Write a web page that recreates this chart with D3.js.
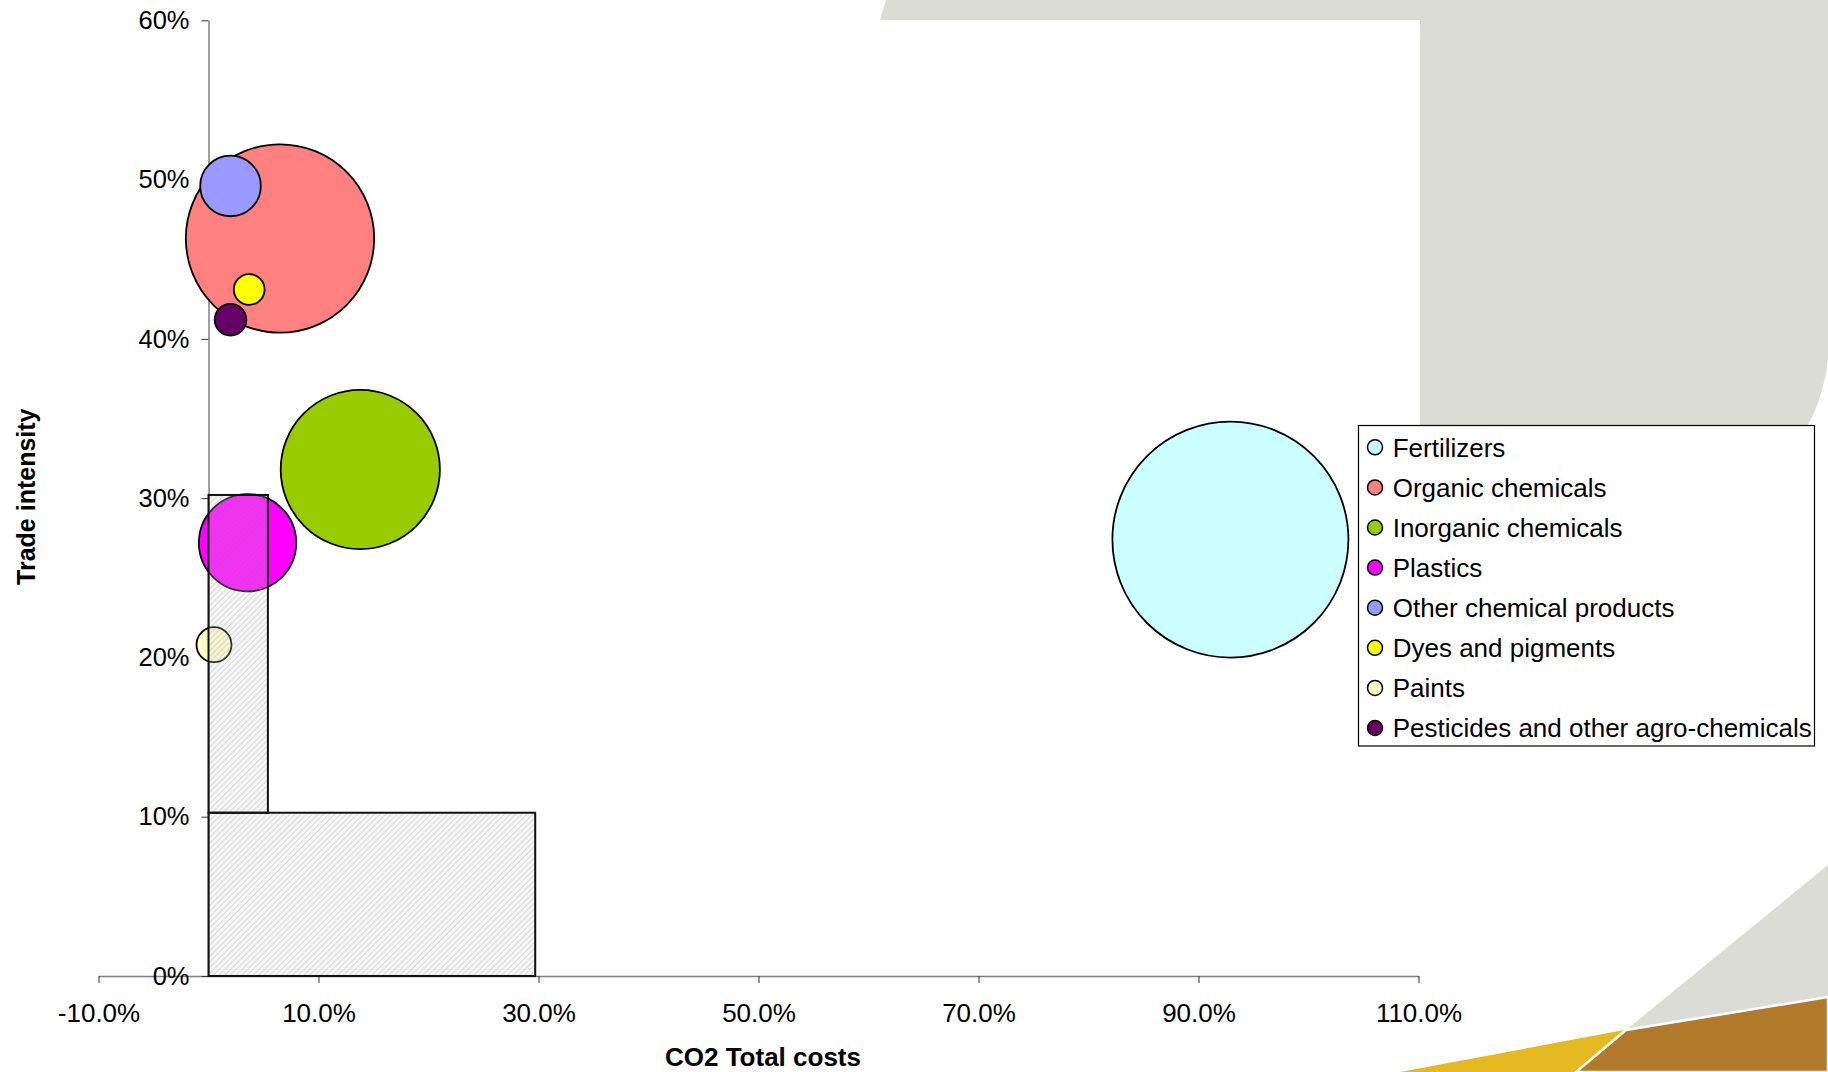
<!DOCTYPE html>
<html>
<head>
<meta charset="utf-8">
<script src="https://cdn.jsdelivr.net/npm/d3@7"></script>
<style>
  body { margin: 0; background: #fff; }
  svg { display: block; font-family: "Liberation Sans", Arial, sans-serif; }
</style>
</head>
<body>
<div id="chart"></div>
<script>
// sectors and their values
const categories = ["Fertilizers", "Organic chemicals", "Inorganic chemicals", "Plastics",
  "Other chemical products", "Dyes and pigments", "Paints", "Pesticides and other agro-chemicals"];
const colors = ["#ccffff", "#ff8080", "#99cc00", "#ff00ff", "#9999ff", "#ffff00", "#ffffcc", "#660066"];
const co2Costs = [0.929, 0.065, 0.138, 0.0355, 0.020, 0.037, 0.005, 0.020];
const tradeIntensity = [0.274, 0.463, 0.318, 0.272, 0.496, 0.431, 0.208, 0.412];
const bubbleSizes = [100, 63.7, 45.5, 17, 6.6, 1.7, 2.2, 1.8];

// hatched threshold zones
const zoneX0 = [0, 0];
const zoneX1 = [0.297, 0.054];
const zoneY0 = [0, 0.1025];
const zoneY1 = [0.1025, 0.302];

const xTicks = [-0.1, 0.1, 0.3, 0.5, 0.7, 0.9, 1.1];
const yTicks = [0, 0.1, 0.2, 0.3, 0.4, 0.5, 0.6];

const width = 1828;
const height = 1072;

const svg = d3.select("#chart")
  .append("svg")
  .attr("width", width)
  .attr("height", height);

// background decoration
svg.append("path")
  .attr("d", "M886,0 L1828,0 L1828,360 Q1823,400 1806,428 L1770,560 L1420,560 L1420,20 L880,20 Z")
  .attr("fill", "#dcdcd6");
svg.append("path")
  .attr("d", "M1828,865 L1626,1030 L1828,997 Z")
  .attr("fill", "#dcdcd6");
svg.append("path")
  .attr("d", "M1400,1072 L1624,1030 L1576,1072 Z")
  .attr("fill", "#e4b921");
svg.append("path")
  .attr("d", "M1626,1030 L1828,997 L1828,1072 L1576,1072 Z")
  .attr("fill", "#b07a2a")
  .attr("stroke", "#fff")
  .attr("stroke-width", 2.5);

const x = d3.scaleLinear().domain([-0.1, 1.1]).range([98.5, 1418.5]);
const y = d3.scaleLinear().domain([0, 0.6]).range([976, 20.3]);
const r = d3.scaleSqrt().domain([0, 100]).range([0, 118]);

// hatch pattern
const defs = svg.append("defs");
const pat = defs.append("pattern")
  .attr("id", "hatch")
  .attr("patternUnits", "userSpaceOnUse")
  .attr("width", 4)
  .attr("height", 4)
  .attr("patternTransform", "rotate(45)");
pat.append("rect").attr("width", 4).attr("height", 4).attr("fill", "rgba(210,210,210,0.22)");
pat.append("line").attr("x1", 0).attr("y1", 0).attr("x2", 0).attr("y2", 4)
  .attr("stroke", "rgba(140,140,140,0.5)").attr("stroke-width", 1);

// axes
const xAxis = svg.append("g")
  .attr("transform", `translate(0,${y(0)})`)
  .call(d3.axisBottom(x).tickValues(xTicks).tickSize(7).tickSizeOuter(0).tickPadding(21)
    .tickFormat(d => (d * 100).toFixed(1) + "%"));
const yAxis = svg.append("g")
  .attr("transform", `translate(${x(0)},0)`)
  .call(d3.axisLeft(y).tickValues(yTicks).tickSize(7).tickSizeOuter(0).tickPadding(12)
    .tickFormat(d => Math.round(d * 100) + "%"));
[xAxis, yAxis].forEach(g => {
  g.select(".domain").attr("stroke", "#808080").attr("stroke-width", 1.5);
  g.selectAll(".tick line").attr("stroke", "#333");
  g.selectAll("text").attr("fill", "#000")
    .style("font-family", "\"Liberation Sans\", Arial, sans-serif");
});
xAxis.selectAll("text").style("font-size", "26px");
yAxis.selectAll("text").style("font-size", "25.5px");

// bubbles, largest first
const data = categories.map((c, i) => ({
  name: c, color: colors[i], cx: co2Costs[i], ty: tradeIntensity[i], size: bubbleSizes[i]
})).sort((a, b) => b.size - a.size);

svg.append("g").selectAll("circle")
  .data(data)
  .join("circle")
  .attr("cx", d => x(d.cx))
  .attr("cy", d => y(d.ty))
  .attr("r", d => r(d.size))
  .attr("fill", d => d.color)
  .attr("stroke", "#000")
  .attr("stroke-width", 1.8);

// zones drawn on top
svg.append("g").selectAll("rect")
  .data(zoneX0.map((v, i) => ({ x0: v, x1: zoneX1[i], y0: zoneY0[i], y1: zoneY1[i] })))
  .join("rect")
  .attr("x", d => x(d.x0))
  .attr("y", d => y(d.y1))
  .attr("width", d => x(d.x1) - x(d.x0))
  .attr("height", d => y(d.y0) - y(d.y1))
  .attr("fill", "url(#hatch)")
  .attr("stroke", "#111")
  .attr("stroke-width", 2);

// axis titles
svg.append("text")
  .attr("x", 763)
  .attr("y", 1066)
  .attr("text-anchor", "middle")
  .style("font-size", "26px")
  .style("font-weight", "bold")
  .text("CO2 Total costs");

svg.append("text")
  .attr("transform", "rotate(-90)")
  .attr("x", -496.7)
  .attr("y", 34.6)
  .attr("text-anchor", "middle")
  .style("font-size", "25px")
  .style("font-weight", "bold")
  .text("Trade intensity");

// legend
const legend = svg.append("g");
legend.append("rect")
  .attr("x", 1358.5).attr("y", 425.5)
  .attr("width", 456).attr("height", 320.5)
  .attr("fill", "#fff").attr("stroke", "#000").attr("stroke-width", 1.2);
const item = legend.selectAll("g.item")
  .data(categories)
  .join("g")
  .attr("class", "item")
  .attr("transform", (d, i) => `translate(1375,${447.3 + i * 40.1})`);
item.append("circle")
  .attr("r", 7.5)
  .attr("fill", (d, i) => colors[i])
  .attr("stroke", "#000")
  .attr("stroke-width", 1.5);
item.append("text")
  .attr("x", 17.7)
  .attr("dy", "0.36em")
  .style("font-size", "26px")
  .text(d => d);
</script>
</body>
</html>
